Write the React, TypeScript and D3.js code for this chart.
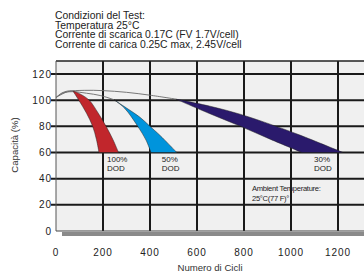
import { useEffect, useRef } from "react";
import * as d3 from "d3";

// header lines
const headerLines = [
  "Condizioni del Test:",
  "Temperatura 25°C",
  "Corrente di scarica 0.17C (FV 1.7V/cell)",
  "Corrente di carica 0.25C max, 2.45V/cell",
];

const xTicks = [0, 200, 400, 600, 800, 1000, 1200];
const xGrid = [200, 400, 600, 800, 1000, 1200, 1400];
const yTicks = [0, 20, 40, 60, 80, 100, 120];

// thin aging curves, [cycles, capacity %]
const agingRed: [number, number][] = [[0, 102], [25, 105.5], [50, 107], [72, 107]];
const agingBlue: [number, number][] = [[0, 102], [30, 105.5], [70, 106.5], [130, 105.3], [190, 103.5], [247, 100.3]];
const agingNavy: [number, number][] = [[0, 102], [50, 106.5], [120, 107.5], [200, 107.3], [300, 106], [400, 103.8], [510, 100.8]];

// wedge edges (top -> bottom)
const redLeft: [number, number][] = [[72, 107], [97, 100], [130, 90], [156, 80], [172, 70], [183, 60]];
const redRight: [number, number][] = [[72, 107], [100, 105], [141, 100], [180, 90], [213, 80], [242, 70], [266, 60]];
const blueLeft: [number, number][] = [[247, 100.3], [291, 94], [348, 80], [383, 69.5], [404, 60]];
const blueRight: [number, number][] = [[247, 100.3], [300, 94], [357, 87], [400, 80], [443, 73], [514, 60]];
const navyLower: [number, number][] = [[510, 100.8], [650, 90], [783, 80.2], [911, 70.2], [1047, 60]];
const navyUpper: [number, number][] = [[510, 100.8], [655, 95.4], [783, 89.3], [923, 80.9], [1038, 73.3], [1221, 60]];

const dodLabels = ["100%", "50%", "30%"];
const dodCycles = [217, 450, 1098];
const ambientLines = ["Ambient Temperature:", "25°C(77 F)°"];

export default function App() {
  const ref = useRef<SVGSVGElement | null>(null);

  useEffect(() => {
    if (!ref.current) return;
    const svg = d3.select(ref.current);
    svg.selectAll("*").remove();
    const width = 364;
    const top = 61;
    const font = "'Liberation Sans', Arial, sans-serif";

    const x = d3.scaleLinear().domain([0, 1400]).range([56, 385]);
    const y = d3.scaleLinear().domain([0, 120]).range([231, 74]);

    // header
    svg.append("g")
      .selectAll("text")
      .data(headerLines)
      .join("text")
      .attr("x", 55)
      .attr("y", (_, i) => 19 + i * 9.5)
      .attr("font-family", font)
      .attr("font-size", 10.4)
      .attr("fill", "#222")
      .text(d => d);

    // plot panel + shadow
    svg.append("rect")
      .attr("x", x(0) + 6).attr("y", y(0) + 1)
      .attr("width", width).attr("height", 4)
      .attr("fill", "#8a8a8a");
    svg.append("rect")
      .attr("x", x(0)).attr("y", top)
      .attr("width", width).attr("height", y(0) - top)
      .attr("fill", "#f0f0f0");

    // grid
    svg.append("g")
      .selectAll("line")
      .data(xGrid)
      .join("line")
      .attr("x1", d => x(d)).attr("x2", d => x(d))
      .attr("y1", top).attr("y2", y(0))
      .attr("stroke", "#1a1a1a").attr("stroke-width", 2);
    svg.append("g")
      .selectAll("line")
      .data(yTicks.filter(d => d > 0))
      .join("line")
      .attr("x1", x(0) - 5).attr("x2", width)
      .attr("y1", d => y(d)).attr("y2", d => y(d))
      .attr("stroke", "#1a1a1a").attr("stroke-width", 2);
    svg.append("line")
      .attr("x1", x(0)).attr("x2", width)
      .attr("y1", y(0)).attr("y2", y(0))
      .attr("stroke", "#444").attr("stroke-width", 1.2);
    svg.append("line")
      .attr("x1", x(0)).attr("x2", width)
      .attr("y1", top).attr("y2", top)
      .attr("stroke", "#222").attr("stroke-width", 1.5);
    svg.append("line")
      .attr("x1", x(0)).attr("x2", x(0))
      .attr("y1", top).attr("y2", y(0))
      .attr("stroke", "#555").attr("stroke-width", 1);

    // tick labels
    svg.append("g")
      .selectAll("text")
      .data(yTicks)
      .join("text")
      .attr("x", x(0) - 4)
      .attr("y", d => y(d) + 3.6)
      .attr("text-anchor", "end")
      .attr("font-family", font)
      .attr("font-size", 10)
      .attr("letter-spacing", 1)
      .attr("fill", "#222")
      .text(d => d);
    svg.append("g")
      .selectAll("text")
      .data(xTicks)
      .join("text")
      .attr("x", d => x(d))
      .attr("y", 255.5)
      .attr("text-anchor", "middle")
      .attr("font-family", font)
      .attr("font-size", 10)
      .attr("letter-spacing", 1)
      .attr("fill", "#222")
      .text(d => d);

    // axis titles
    svg.append("text")
      .attr("transform", "translate(18,145) rotate(-90)")
      .attr("text-anchor", "middle")
      .attr("font-family", font)
      .attr("font-size", 9.6)
      .attr("fill", "#333")
      .text("Capacità (%)");
    svg.append("text")
      .attr("x", 210).attr("y", 271)
      .attr("text-anchor", "middle")
      .attr("font-family", font)
      .attr("font-size", 9.6)
      .attr("fill", "#333")
      .text("Numero di Cicli");

    // aging curves
    const line = d3.line<[number, number]>()
      .x(d => x(d[0]))
      .y(d => y(d[1]))
      .curve(d3.curveCatmullRom);
    svg.append("g")
      .selectAll("path")
      .data([agingNavy, agingBlue, agingRed])
      .join("path")
      .attr("d", d => line(d))
      .attr("fill", "none")
      .attr("stroke", "#6a6a6a")
      .attr("stroke-width", 0.9);

    // wedges
    const wedge = (left: [number, number][], right: [number, number][]) =>
      (line(left) ?? "") + "L" + (line(right.slice().reverse()) ?? "").slice(1) + "Z";
    const wedges = [
      { d: wedge(redLeft, redRight), fill: "#c1262c" },
      { d: wedge(blueLeft, blueRight), fill: "#0094dc" },
      { d: wedge(navyLower, navyUpper), fill: "#2a1a6c" },
    ];
    svg.append("g")
      .selectAll("path")
      .data(wedges)
      .join("path")
      .attr("d", d => d.d)
      .attr("fill", d => d.fill)
      .attr("stroke", "#222")
      .attr("stroke-width", 0.5);

    // DOD labels
    const dod = svg.append("g")
      .attr("font-family", font)
      .attr("font-size", 8)
      .attr("fill", "#222");
    dod.selectAll("text.pct")
      .data(dodLabels)
      .join("text")
      .attr("class", "pct")
      .attr("x", (_, i) => x(dodCycles[i]))
      .attr("y", y(52.5))
      .text(d => d);
    dod.selectAll("text.dod")
      .data(dodLabels)
      .join("text")
      .attr("class", "dod")
      .attr("x", (_, i) => x(dodCycles[i]))
      .attr("y", y(45.5))
      .text("DOD");

    // ambient note
    svg.append("g")
      .selectAll("text")
      .data(ambientLines)
      .join("text")
      .attr("x", x(834))
      .attr("y", (_, i) => y(30.5 - i * 7.6))
      .attr("font-family", font)
      .attr("font-size", 7.6)
      .attr("letter-spacing", -0.3)
      .attr("fill", "#222")
      .text(d => d);
  }, []);

  return (
    <svg
      ref={ref}
      width={364}
      height={274}
      style={{ position: "absolute", left: 0, top: 0, background: "#fff" }}
      role="img"
      aria-label="Capacità vs Numero di Cicli"
    />
  );
}
